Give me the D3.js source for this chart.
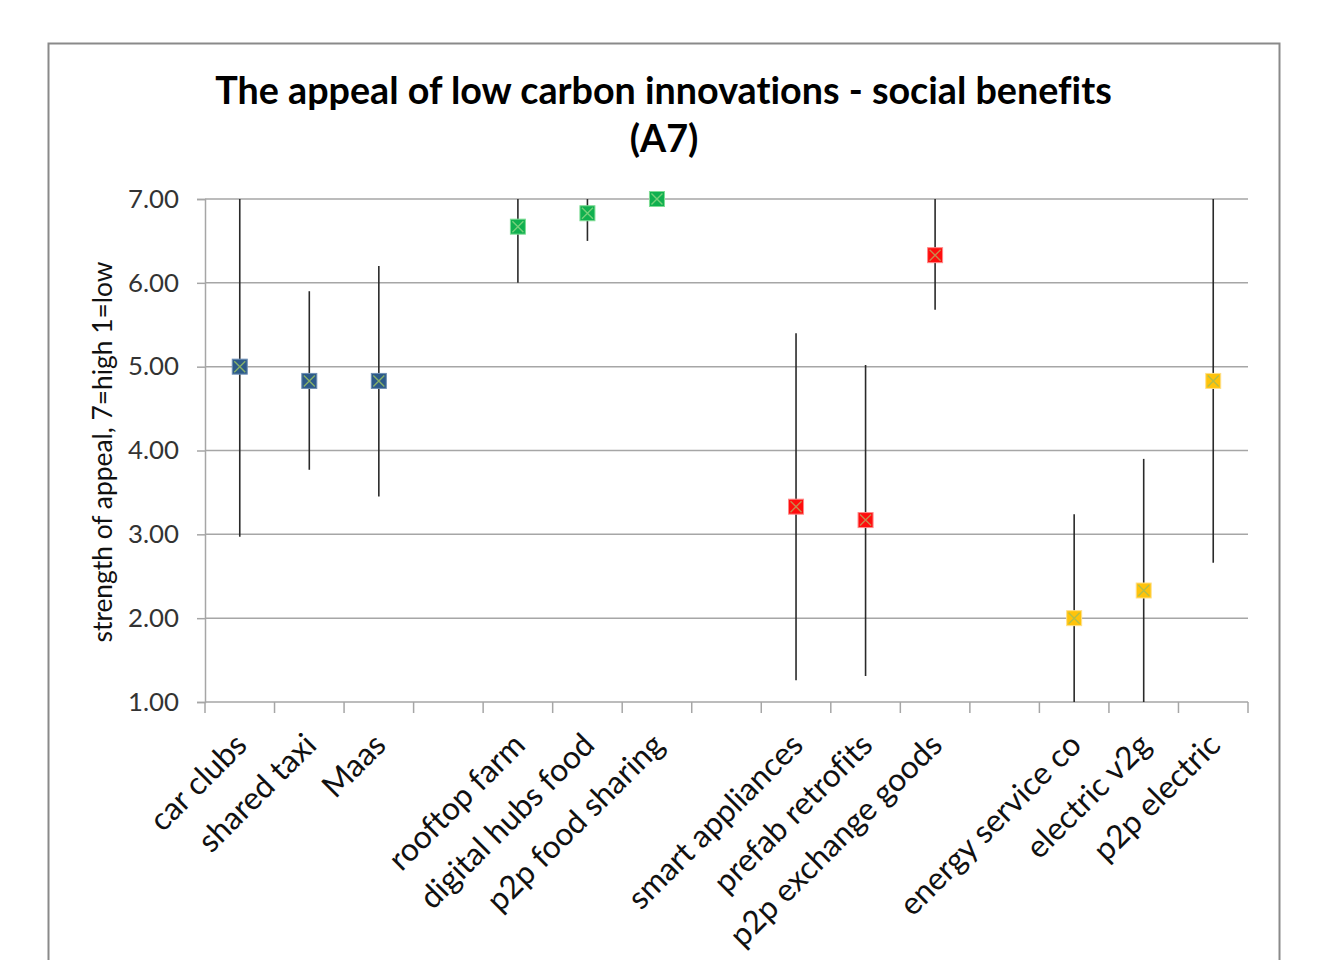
<!DOCTYPE html>
<html>
<head>
<meta charset="utf-8">
<script src="https://cdn.jsdelivr.net/npm/d3@7"></script>
<style>
  html, body { margin: 0; padding: 0; background: #ffffff; }
  svg { display: block; font-family: Lato, "Open Sans", "DejaVu Sans", sans-serif; font-variant-ligatures: none; }
</style>
</head>
<body>
<script>
// Innovation categories; empty strings are spacer slots between groups
const categories = ["car clubs", "shared taxi", "Maas", "",
  "rooftop farm", "digital hubs food", "p2p food sharing", "",
  "smart appliances", "prefab retrofits", "p2p exchange goods", "",
  "energy service co", "electric v2g", "p2p electric"];

// Mean appeal score per innovation (7 = high, 1 = low)
const meanScores = [5.00, 4.83, 4.83, null, 6.67, 6.83, 7.00, null, 3.33, 3.17, 6.33, null, 2.00, 2.33, 4.83];
// Upper and lower ends of the spread lines
const highValues = [7.00, 5.90, 6.20, null, 7.00, 7.00, 7.00, null, 5.40, 5.02, 7.00, null, 3.24, 3.90, 7.00];
const lowValues  = [2.97, 3.77, 3.45, null, 6.00, 6.50, 7.00, null, 1.26, 1.31, 5.68, null, 1.00, 1.00, 2.66];
// Sector each innovation belongs to
const sectors = ["mobility", "mobility", "mobility", null, "food", "food", "food", null,
  "homes", "homes", "homes", null, "energy", "energy", "energy"];

const yTickValues = [1, 2, 3, 4, 5, 6, 7];

const titleLines = ["The appeal of low carbon innovations - social benefits", "(A7)"];
const yAxisLabel = "strength of appeal, 7=high 1=low";

const sectorFill  = { mobility: "#2C5A89", food: "#10B04F", homes: "#FF0D0D", energy: "#FFC30A" };
const sectorCross = { mobility: "#86B06A", food: "#74D07A", homes: "#C8884E", energy: "#B4BE48" };
const sectorEdge  = { mobility: "#6E8FB4", food: "#7FDC95", homes: "#FF8A8A", energy: "#FFE08A" };

const W = 1323, H = 960;
const plot = { left: 205, right: 1248, top: 199, bottom: 702 };

const svg = d3.select("body").append("svg").attr("width", W).attr("height", H);
svg.append("rect").attr("width", W).attr("height", H).attr("fill", "#ffffff");

// chart frame
svg.append("rect")
  .attr("x", 48.5).attr("y", 43.5).attr("width", 1231).attr("height", 960)
  .attr("fill", "none").attr("stroke", "#8a8a8a").attr("stroke-width", 2);

// scale text to a given rendered width
function fitWidth(sel, target) {
  sel.style("font-size", "100px");
  const w = sel.node().getComputedTextLength();
  const size = 100 * target / w;
  sel.style("font-size", size + "px");
  return size;
}

const x = d3.scaleBand().domain(d3.range(categories.length)).range([plot.left, plot.right]).padding(0);
const y = d3.scaleLinear().domain([1, 7]).range([plot.bottom, plot.top]);
const cx = i => x(i) + x.bandwidth() / 2;

// horizontal gridlines
svg.append("g").selectAll("line").data(yTickValues.slice(1)).join("line")
  .attr("x1", plot.left).attr("x2", plot.right)
  .attr("y1", d => y(d)).attr("y2", d => y(d))
  .attr("stroke", "#a6a6a6").attr("stroke-width", 1.5);

// y axis
const yAxis = svg.append("g").attr("transform", `translate(${plot.left},0)`)
  .call(d3.axisLeft(y).tickValues(yTickValues).tickFormat(d3.format(".2f")).tickSize(8).tickPadding(18));
yAxis.select(".domain").attr("stroke", "#a6a6a6").attr("stroke-width", 1.5);
yAxis.selectAll(".tick line").attr("stroke", "#a6a6a6").attr("stroke-width", 1.5);
const yTickText = yAxis.selectAll(".tick text").attr("fill", "#333333").attr("font-family", "Lato, sans-serif");
const ySize = fitWidth(yAxis.select(".tick text"), 51);
yTickText.style("font-size", ySize + "px");

// x axis line with ticks at slot boundaries
const xAxis = svg.append("g");
xAxis.append("line").attr("x1", plot.left).attr("x2", plot.right)
  .attr("y1", plot.bottom).attr("y2", plot.bottom)
  .attr("stroke", "#a6a6a6").attr("stroke-width", 1.5);
xAxis.selectAll("line.tick").data(d3.range(categories.length + 1)).join("line")
  .attr("class", "tick")
  .attr("x1", i => plot.left + i * x.bandwidth()).attr("x2", i => plot.left + i * x.bandwidth())
  .attr("y1", plot.bottom).attr("y2", plot.bottom + 11)
  .attr("stroke", "#a6a6a6").attr("stroke-width", 1.5);

// rotated category labels
const labelData = categories.map((c, i) => ({ c, i })).filter(d => d.c !== "");
const labels = xAxis.selectAll("text.cat").data(labelData).join("text")
  .attr("class", "cat")
  .attr("text-anchor", "end")
  .attr("fill", "#111111")
  .attr("transform", d => `translate(${cx(d.i) + 9},${plot.bottom + 45}) rotate(-45)`)
  .text(d => d.c);
const catSize = fitWidth(labels.filter(d => d.c === "smart appliances"), 232);
labels.style("font-size", catSize + "px");

// spread lines
const rows = categories.map((c, i) => ({ c, i, mean: meanScores[i], hi: highValues[i], lo: lowValues[i], sector: sectors[i] }))
  .filter(d => d.mean !== null);

svg.append("g").selectAll("line").data(rows).join("line")
  .attr("x1", d => cx(d.i)).attr("x2", d => cx(d.i))
  .attr("y1", d => y(d.hi)).attr("y2", d => y(d.lo))
  .attr("stroke", "#2a2a2a").attr("stroke-width", 1.6);

// square markers with a cross
const m = 7.5;
const markers = svg.append("g").selectAll("g").data(rows).join("g")
  .attr("transform", d => `translate(${cx(d.i)},${y(d.mean)})`);
markers.append("rect")
  .attr("x", -m).attr("y", -m).attr("width", 2 * m).attr("height", 2 * m)
  .attr("fill", d => sectorFill[d.sector])
  .attr("stroke", d => sectorEdge[d.sector]).attr("stroke-width", 1);
markers.append("path")
  .attr("d", `M${-m + 2},${-m + 2}L${m - 2},${m - 2}M${m - 2},${-m + 2}L${-m + 2},${m - 2}`)
  .attr("stroke", d => sectorCross[d.sector]).attr("stroke-width", 1.4).attr("fill", "none");

// y axis title
const yTitle = svg.append("text")
  .attr("transform", `translate(112,452) rotate(-90)`)
  .attr("text-anchor", "middle").attr("fill", "#111111")
  .text(yAxisLabel);
fitWidth(yTitle, 381);

// chart title
const t1 = svg.append("text").attr("x", 663.5).attr("y", 104)
  .attr("text-anchor", "middle").attr("font-weight", "bold").attr("fill", "#000000")
  .text(titleLines[0]);
const tSize = fitWidth(t1, 897);
svg.append("text").attr("x", 664).attr("y", 152)
  .attr("text-anchor", "middle").attr("font-weight", "bold").attr("fill", "#000000")
  .style("font-size", tSize + "px")
  .text(titleLines[1]);
</script>
</body>
</html>
